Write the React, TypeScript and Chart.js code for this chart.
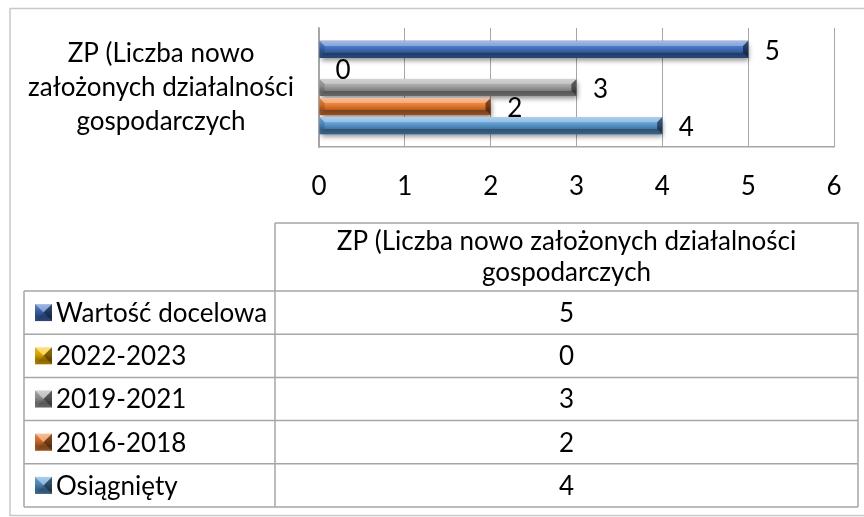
import React, { useEffect, useRef } from 'react';
import { Chart, registerables } from 'chart.js';

Chart.register(...registerables);

// ---- data ----
const categoryLabel = ['ZP (Liczba nowo', 'założonych działalności', 'gospodarczych'];
const tableHeader = ['ZP (Liczba nowo założonych działalności', 'gospodarczych'];
const seriesNames = ['Wartość docelowa', '2022-2023', '2019-2021', '2016-2018', 'Osiągnięty'];
const seriesValues = [5, 0, 3, 2, 4];
const seriesColors = ['#4472C4', '#FFC000', '#A5A5A5', '#ED7D31', '#5B9BD5'];
const xMin = 0;
const xMax = 6;
const xStep = 1;

// ---- style / layout ----
const FONT = 'Lato, "Noto Sans", sans-serif';
const FS = 26;
const W = 864;
const H = 517;
const PLOT_LEFT = 319;
const PLOT_TOP = 28;
const PLOT_BOTTOM = 147;
const PLOT_RIGHT = 834;
const GRID = '#a6a6a6';

const T_LEFT = 24;
const T_COL = 275;
const T_RIGHT = 858;
const T_HEAD_TOP = 223;
const T_ROW_TOP = 291;
const T_BOTTOM = 507;

function hexToRgb(hex: string) {
  const n = parseInt(hex.slice(1), 16);
  return [(n >> 16) & 255, (n >> 8) & 255, n & 255];
}
function shade(hex: string, amt: number) {
  const [r, g, b] = hexToRgb(hex);
  const t = amt < 0 ? 0 : 255;
  const p = Math.abs(amt);
  const f = (c: number) => Math.round(c + (t - c) * p);
  return `rgb(${f(r)},${f(g)},${f(b)})`;
}
function poly(ctx: CanvasRenderingContext2D, pts: number[][], fill: string) {
  ctx.beginPath();
  ctx.moveTo(pts[0][0], pts[0][1]);
  for (let i = 1; i < pts.length; i++) ctx.lineTo(pts[i][0], pts[i][1]);
  ctx.closePath();
  ctx.fillStyle = fill;
  ctx.fill();
}
function bevelRect(ctx: CanvasRenderingContext2D, x0: number, y0: number, x1: number, y1: number, color: string, bevel: number) {
  const w = x1 - x0;
  const h = y1 - y0;
  if (w <= 0.5 || h <= 0) return;
  const b = Math.min(bevel, w / 2, h / 2);
  const g = ctx.createLinearGradient(0, y0, 0, y1);
  g.addColorStop(0, shade(color, 0.3));
  g.addColorStop(0.4, color);
  g.addColorStop(0.75, shade(color, -0.3));
  g.addColorStop(1, shade(color, -0.15));
  ctx.fillStyle = g;
  ctx.fillRect(x0, y0, w, h);
  poly(ctx, [[x0, y0], [x1, y0], [x1 - b, y0 + b], [x0 + b, y0 + b]], 'rgba(255,255,255,0.3)');
  poly(ctx, [[x0, y1], [x1, y1], [x1 - b, y1 - b], [x0 + b, y1 - b]], 'rgba(0,0,0,0.25)');
  poly(ctx, [[x1, y0], [x1, y1], [x1 - b, y1 - b], [x1 - b, y0 + b]], 'rgba(0,0,0,0.5)');
  poly(ctx, [[x0, y0], [x0, y1], [x0 + b, y1 - b], [x0 + b, y0 + b]], 'rgba(0,0,0,0.15)');
}

const shadowPlugin = {
  id: 'barShadow',
  beforeDatasetDraw(chart: any) {
    const ctx = chart.ctx;
    ctx.save();
    ctx.shadowColor = 'rgba(0,0,0,0.45)';
    ctx.shadowBlur = 5;
    ctx.shadowOffsetY = 3;
    ctx.shadowOffsetX = 1;
  },
  afterDatasetDraw(chart: any) {
    chart.ctx.restore();
  },
};

const bevelAndLabelsPlugin = {
  id: 'bevelLabels',
  afterDatasetsDraw(chart: any) {
    const ctx = chart.ctx as CanvasRenderingContext2D;
    ctx.save();
    chart.data.datasets.forEach((ds: any, di: number) => {
      const meta = chart.getDatasetMeta(di);
      meta.data.forEach((bar: any, i: number) => {
        const p = bar.getProps(['x', 'y', 'base', 'height'], true);
        const x0 = Math.min(p.base, p.x);
        const x1 = Math.max(p.base, p.x);
        const y0 = p.y - p.height / 2;
        const y1 = p.y + p.height / 2;
        bevelRect(ctx, x0, y0, x1, y1, ds.backgroundColor, p.height * 0.3);
        ctx.fillStyle = '#000';
        ctx.font = `${FS}px ${FONT}`;
        ctx.textAlign = 'center';
        ctx.textBaseline = 'middle';
        ctx.fillText(String(ds.data[i]), x1 + 24, p.y + 2);
      });
    });
    ctx.restore();
  },
};

const framePlugin = {
  id: 'frame',
  beforeDraw(chart: any) {
    const ctx = chart.ctx as CanvasRenderingContext2D;
    ctx.save();
    ctx.fillStyle = '#fff';
    ctx.fillRect(0, 0, W, H);
    ctx.strokeStyle = '#c8c8c8';
    ctx.lineWidth = 1.5;
    ctx.strokeRect(10, 8.5, W + 20, H - 10);
    ctx.restore();
  },
};

const tablePlugin = {
  id: 'dataTable',
  afterDraw(chart: any) {
    const ctx = chart.ctx as CanvasRenderingContext2D;
    const datasets = chart.data.datasets;
    const n = datasets.length;
    const rowH = (T_BOTTOM - T_ROW_TOP) / n;
    ctx.save();
    ctx.strokeStyle = GRID;
    ctx.lineWidth = 1.5;
    ctx.beginPath();
    ctx.moveTo(T_COL, T_HEAD_TOP);
    ctx.lineTo(T_RIGHT, T_HEAD_TOP);
    ctx.lineTo(T_RIGHT, T_BOTTOM);
    ctx.moveTo(T_COL, T_HEAD_TOP);
    ctx.lineTo(T_COL, T_BOTTOM);
    ctx.moveTo(T_LEFT, T_ROW_TOP);
    ctx.lineTo(T_LEFT, T_BOTTOM);
    for (let i = 0; i <= n; i++) {
      const y = T_ROW_TOP + rowH * i;
      ctx.moveTo(T_LEFT, y);
      ctx.lineTo(T_RIGHT, y);
    }
    ctx.stroke();

    ctx.fillStyle = '#000';
    ctx.font = `${FS}px ${FONT}`;
    ctx.textBaseline = 'middle';
    ctx.textAlign = 'center';
    const cx = (T_COL + T_RIGHT) / 2;
    const headMid = (T_HEAD_TOP + T_ROW_TOP) / 2;
    const lh = 31;
    tableHeader.forEach((line, i) => {
      ctx.fillText(line, cx, headMid + (i - (tableHeader.length - 1) / 2) * lh);
    });

    datasets.forEach((ds: any, i: number) => {
      const yc = T_ROW_TOP + rowH * (i + 0.5);
      bevelRect(ctx, 35, yc - 8.5, 52, yc + 8.5, ds.backgroundColor, 8.5);
      ctx.fillStyle = '#000';
      ctx.textAlign = 'left';
      ctx.fillText(ds.label, 56, yc + 1);
      ctx.textAlign = 'center';
      ctx.fillText(String(ds.data[0]), cx, yc + 1);
    });
    ctx.restore();
  },
};

export default function App() {
  const ref = useRef<HTMLCanvasElement | null>(null);

  useEffect(() => {
    if (!ref.current) return;
    const chart = new Chart(ref.current, {
      type: 'bar',
      data: {
        labels: [categoryLabel],
        datasets: seriesNames.map((name, i) => ({
          label: name,
          data: [seriesValues[i]],
          backgroundColor: seriesColors[i],
          borderWidth: 0,
          categoryPercentage: 0.8,
          barPercentage: 0.9,
        })),
      },
      options: {
        indexAxis: 'y',
        responsive: false,
        animation: false,
        layout: { padding: { top: PLOT_TOP, right: W - PLOT_RIGHT, left: 0, bottom: 0 } },
        plugins: {
          legend: { display: false },
          tooltip: { enabled: false },
          title: { display: false },
        },
        scales: {
          x: {
            min: xMin,
            max: xMax,
            ticks: {
              stepSize: xStep,
              color: '#000',
              font: { family: FONT, size: FS },
              padding: 24,
            },
            grid: { color: GRID, lineWidth: 1, drawTicks: false },
            border: { color: GRID, width: 1.5 },
            afterFit: (s: any) => {
              s.height = H - PLOT_BOTTOM;
              s.paddingLeft = 0;
              s.paddingRight = 0;
            },
          },
          y: {
            ticks: {
              crossAlign: 'center',
              color: '#000',
              font: { family: FONT, size: FS, lineHeight: 1.31 },
            },
            grid: { color: 'transparent', tickColor: 'transparent', drawTicks: true, tickLength: 22 },
            border: { color: GRID, width: 1.5 },
            afterFit: (s: any) => {
              s.width = PLOT_LEFT;
              s.paddingTop = 0;
              s.paddingBottom = 0;
            },
          },
        },
      },
      plugins: [framePlugin, shadowPlugin, bevelAndLabelsPlugin, tablePlugin],
    } as any);
    return () => chart.destroy();
  }, []);

  return (
    <div style={{ position: 'absolute', left: 0, top: 0, width: W, height: H, background: '#fff' }}>
      <canvas ref={ref} width={W} height={H} style={{ width: W, height: H, display: 'block' }} />
    </div>
  );
}
